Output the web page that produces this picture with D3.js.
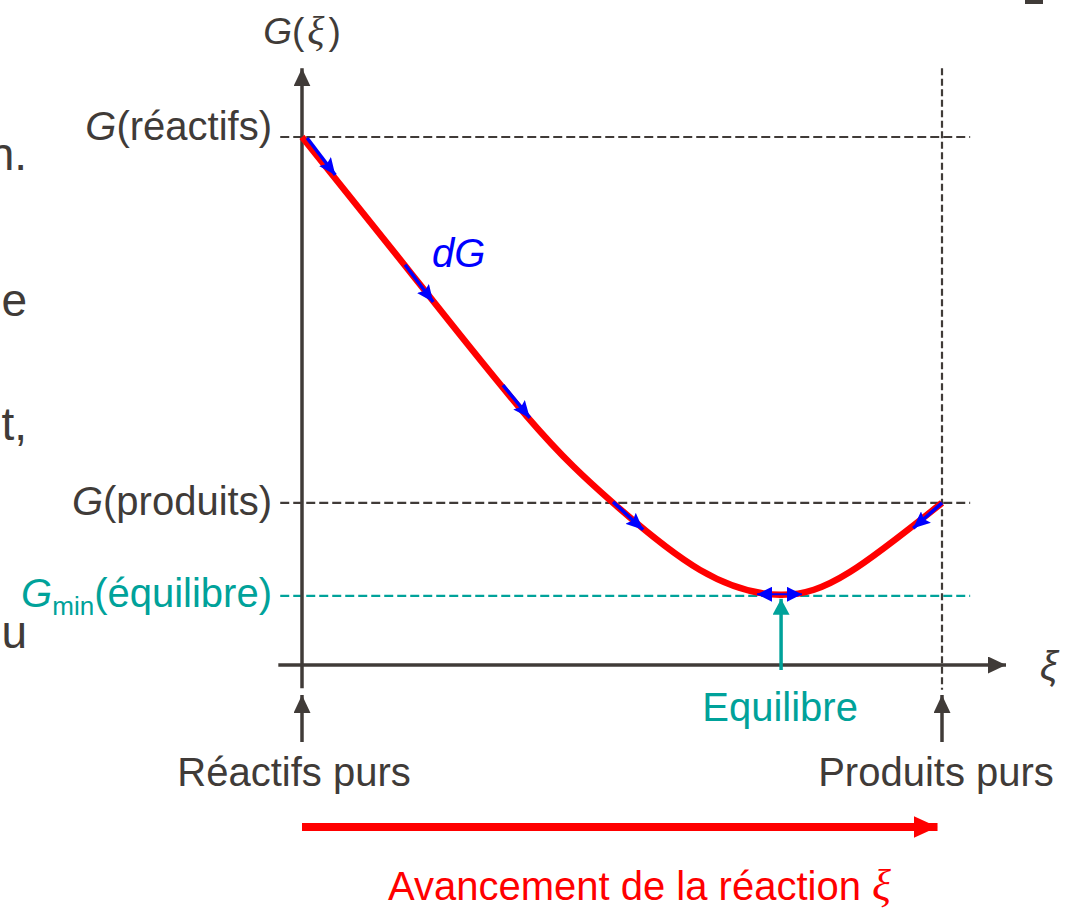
<!DOCTYPE html>
<html>
<head>
<meta charset="utf-8">
<script src="https://cdn.jsdelivr.net/npm/d3@7"></script>
<style>
body { margin: 0; background: #fff; }
svg { display: block; }
text { font-family: "Liberation Sans", Arial, sans-serif; }
</style>
</head>
<body>
<svg id="chart" width="1065" height="908"></svg>
<script>
// curve G(xi), xi in [0,1], G normalised so G(reactifs) = 100
const xiValues = [0, 0.158, 0.352, 0.486, 0.622, 0.747, 0.856, 1]
const gValues  = [100, 76.1, 47.0, 30.7, 18.0, 13.3, 17.6, 30.7]

// reference levels
const levelNames  = ["réactifs", "produits", "min"]
const levelValues = [100, 30.7, 13.1]

// little dG arrows along the curve [xi0, g0, xi1, g1]
const dgArrows = [
    [0.008, 99.8, 0.052, 92.8],
    [0.161, 75.8, 0.205, 68.75],
    [0.314, 53.0, 0.356, 46.8],
    [0.486, 30.9, 0.533, 25.6],
    [1.0, 30.7, 0.955, 25.9]
]
const equilibreArrow = [0.711, 0.781, 13.4]
const xiEquilibre = 0.747

const ink = "#403b38"
const teal = "#00a29a"

const svg = d3.select("#chart")
const x = d3.scaleLinear().domain([0, 1]).range([302, 942])
const y = d3.scaleLinear().domain([0, 100]).range([665, 137])

const defs = svg.append("defs")
function marker (id, color, path, w, h) {
    defs.append("marker")
        .attr("id", id)
        .attr("markerUnits", "userSpaceOnUse")
        .attr("viewBox", `0 ${-h/2} ${w} ${h}`)
        .attr("refX", w).attr("refY", 0)
        .attr("markerWidth", w).attr("markerHeight", h)
        .attr("orient", "auto-start-reverse")
        .append("path").attr("d", path).attr("fill", color)
}
marker("blue", "#0000ff", "M0,-7.5L17,0L0,7.5L3,0Z", 17, 15)
marker("blue2", "#0000ff", "M0,-7.5L15,0L0,7.5Z", 15, 15)
marker("ink", ink, "M0,-8.5L18,0L0,8.5Z", 18, 17)
marker("teal", teal, "M0,-8.5L16,0L0,8.5Z", 16, 17)
marker("red", "#ff0000", "M0,-11L24,0L0,11Z", 24, 22)

// cut-off slide text on the left
const sideText = [["n.", 170], ["e", 316], ["t,", 440], ["u", 648]]
svg.selectAll(".side").data(sideText).enter().append("text")
    .attr("class", "side")
    .attr("x", 27).attr("y", d => d[1])
    .attr("text-anchor", "end")
    .attr("font-size", 46).attr("fill", ink)
    .text(d => d[0])
svg.append("rect").attr("x", 1025).attr("y", 0).attr("width", 18).attr("height", 4).attr("fill", ink)

// dashed reference lines
const dash = svg.append("g").attr("fill", "none").attr("stroke-width", 2.2)
levelValues.forEach((v, i) => {
    dash.append("line")
        .attr("x1", x(-0.034)).attr("x2", x(1.044))
        .attr("y1", y(v)).attr("y2", y(v))
        .attr("stroke", i === 2 ? teal : ink)
        .attr("stroke-dasharray", "9,4")
})
dash.append("line")
    .attr("x1", x(1)).attr("x2", x(1))
    .attr("y1", y(113)).attr("y2", y(-4.7))
    .attr("stroke", ink).attr("stroke-dasharray", "7,3.5")

// axes
svg.append("line")
    .attr("x1", x(0)).attr("x2", x(0))
    .attr("y1", y(-4.4)).attr("y2", y(113))
    .attr("stroke", ink).attr("stroke-width", 3.5)
    .attr("marker-end", "url(#ink)")
svg.append("line")
    .attr("x1", x(-0.037)).attr("x2", x(1.1))
    .attr("y1", y(0)).attr("y2", y(0))
    .attr("stroke", ink).attr("stroke-width", 3.5)
    .attr("marker-end", "url(#ink)")

// small arrows under the axis
;[0, 1].forEach(v => {
    svg.append("line")
        .attr("x1", x(v)).attr("x2", x(v))
        .attr("y1", 742).attr("y2", 695)
        .attr("stroke", ink).attr("stroke-width", 3.5)
        .attr("marker-end", "url(#ink)")
})

// the curve
const line = d3.line()
    .x((d, i) => x(xiValues[i]))
    .y(d => y(d))
    .curve(d3.curveNatural)
svg.append("path")
    .datum(gValues)
    .attr("d", line)
    .attr("fill", "none")
    .attr("stroke", "#ff0000")
    .attr("stroke-width", 6.5)

// dG arrows
svg.selectAll(".dg").data(dgArrows).enter().append("line")
    .attr("class", "dg")
    .attr("x1", d => x(d[0])).attr("y1", d => y(d[1]))
    .attr("x2", d => x(d[2])).attr("y2", d => y(d[3]))
    .attr("stroke", "#0000ff").attr("stroke-width", 3.5)
    .attr("marker-end", "url(#blue)")

svg.append("line")
    .attr("x1", x(equilibreArrow[0])).attr("x2", x(equilibreArrow[1]))
    .attr("y1", y(equilibreArrow[2])).attr("y2", y(equilibreArrow[2]))
    .attr("stroke", "#0000ff").attr("stroke-width", 2)
    .attr("marker-start", "url(#blue2)")
    .attr("marker-end", "url(#blue2)")

// equilibrium arrow
svg.append("line")
    .attr("x1", x(xiEquilibre) + 1).attr("x2", x(xiEquilibre) + 1)
    .attr("y1", y(0) + 5).attr("y2", y(levelValues[2]) + 3)
    .attr("stroke", teal).attr("stroke-width", 3.5)
    .attr("marker-end", "url(#teal)")

// red progress arrow
svg.append("line")
    .attr("x1", x(0)).attr("x2", x(0.993))
    .attr("y1", 827).attr("y2", 827)
    .attr("stroke", "#ff0000").attr("stroke-width", 8)
    .attr("marker-end", "url(#red)")

// labels
const serif = "'Liberation Serif', 'DejaVu Serif', serif"
const yTitle = svg.append("text")
    .attr("x", x(0)).attr("y", 44)
    .attr("text-anchor", "middle")
    .attr("font-size", 37).attr("fill", ink)
yTitle.append("tspan").attr("font-style", "italic").text("G")
yTitle.append("tspan").text("(")
yTitle.append("tspan").attr("dx", 3).attr("font-family", serif).attr("font-style", "italic").attr("font-size", 40).text("ξ")
yTitle.append("tspan").attr("dx", 4).text(")")

svg.append("text")
    .attr("x", 1040).attr("y", 680)
    .attr("font-family", serif).attr("font-style", "italic")
    .attr("font-size", 40).attr("fill", ink)
    .text("ξ")

const levelLabel = svg.selectAll(".lvl").data(levelNames).enter().append("text")
    .attr("class", "lvl")
    .attr("x", 272)
    .attr("y", (d, i) => y(levelValues[i]) + [3, 12, 11][i])
    .attr("text-anchor", "end")
    .attr("font-size", 40)
    .attr("fill", (d, i) => i === 2 ? teal : ink)
levelLabel.each(function (d, i) {
    const t = d3.select(this)
    t.append("tspan").attr("font-style", "italic").text("G")
    if (d === "min") {
        t.append("tspan").attr("font-size", 26).attr("dy", 8).text("min")
        t.append("tspan").attr("dy", -8).text("(équilibre)")
    } else {
        t.append("tspan").text("(" + d + ")")
    }
})

svg.append("text")
    .attr("x", 432).attr("y", 267)
    .attr("font-size", 40).attr("font-style", "italic")
    .attr("fill", "#0000ff")
    .text("dG")

svg.append("text")
    .attr("x", x(xiEquilibre)).attr("y", 721)
    .attr("text-anchor", "middle")
    .attr("font-size", 40).attr("fill", teal)
    .text("Equilibre")

svg.append("text")
    .attr("x", x(0) - 8).attr("y", 786)
    .attr("text-anchor", "middle")
    .attr("font-size", 40).attr("fill", ink)
    .text("Réactifs purs")
svg.append("text")
    .attr("x", x(1) - 6).attr("y", 786)
    .attr("text-anchor", "middle")
    .attr("font-size", 40).attr("fill", ink)
    .text("Produits purs")

const title = svg.append("text")
    .attr("x", 388).attr("y", 900)
    .attr("font-size", 40).attr("fill", "#ff0000")
title.append("tspan").text("Avancement de la réaction ")
title.append("tspan").attr("font-family", serif).attr("font-style", "italic").attr("font-size", 44).text("ξ")
</script>
</body>
</html>
